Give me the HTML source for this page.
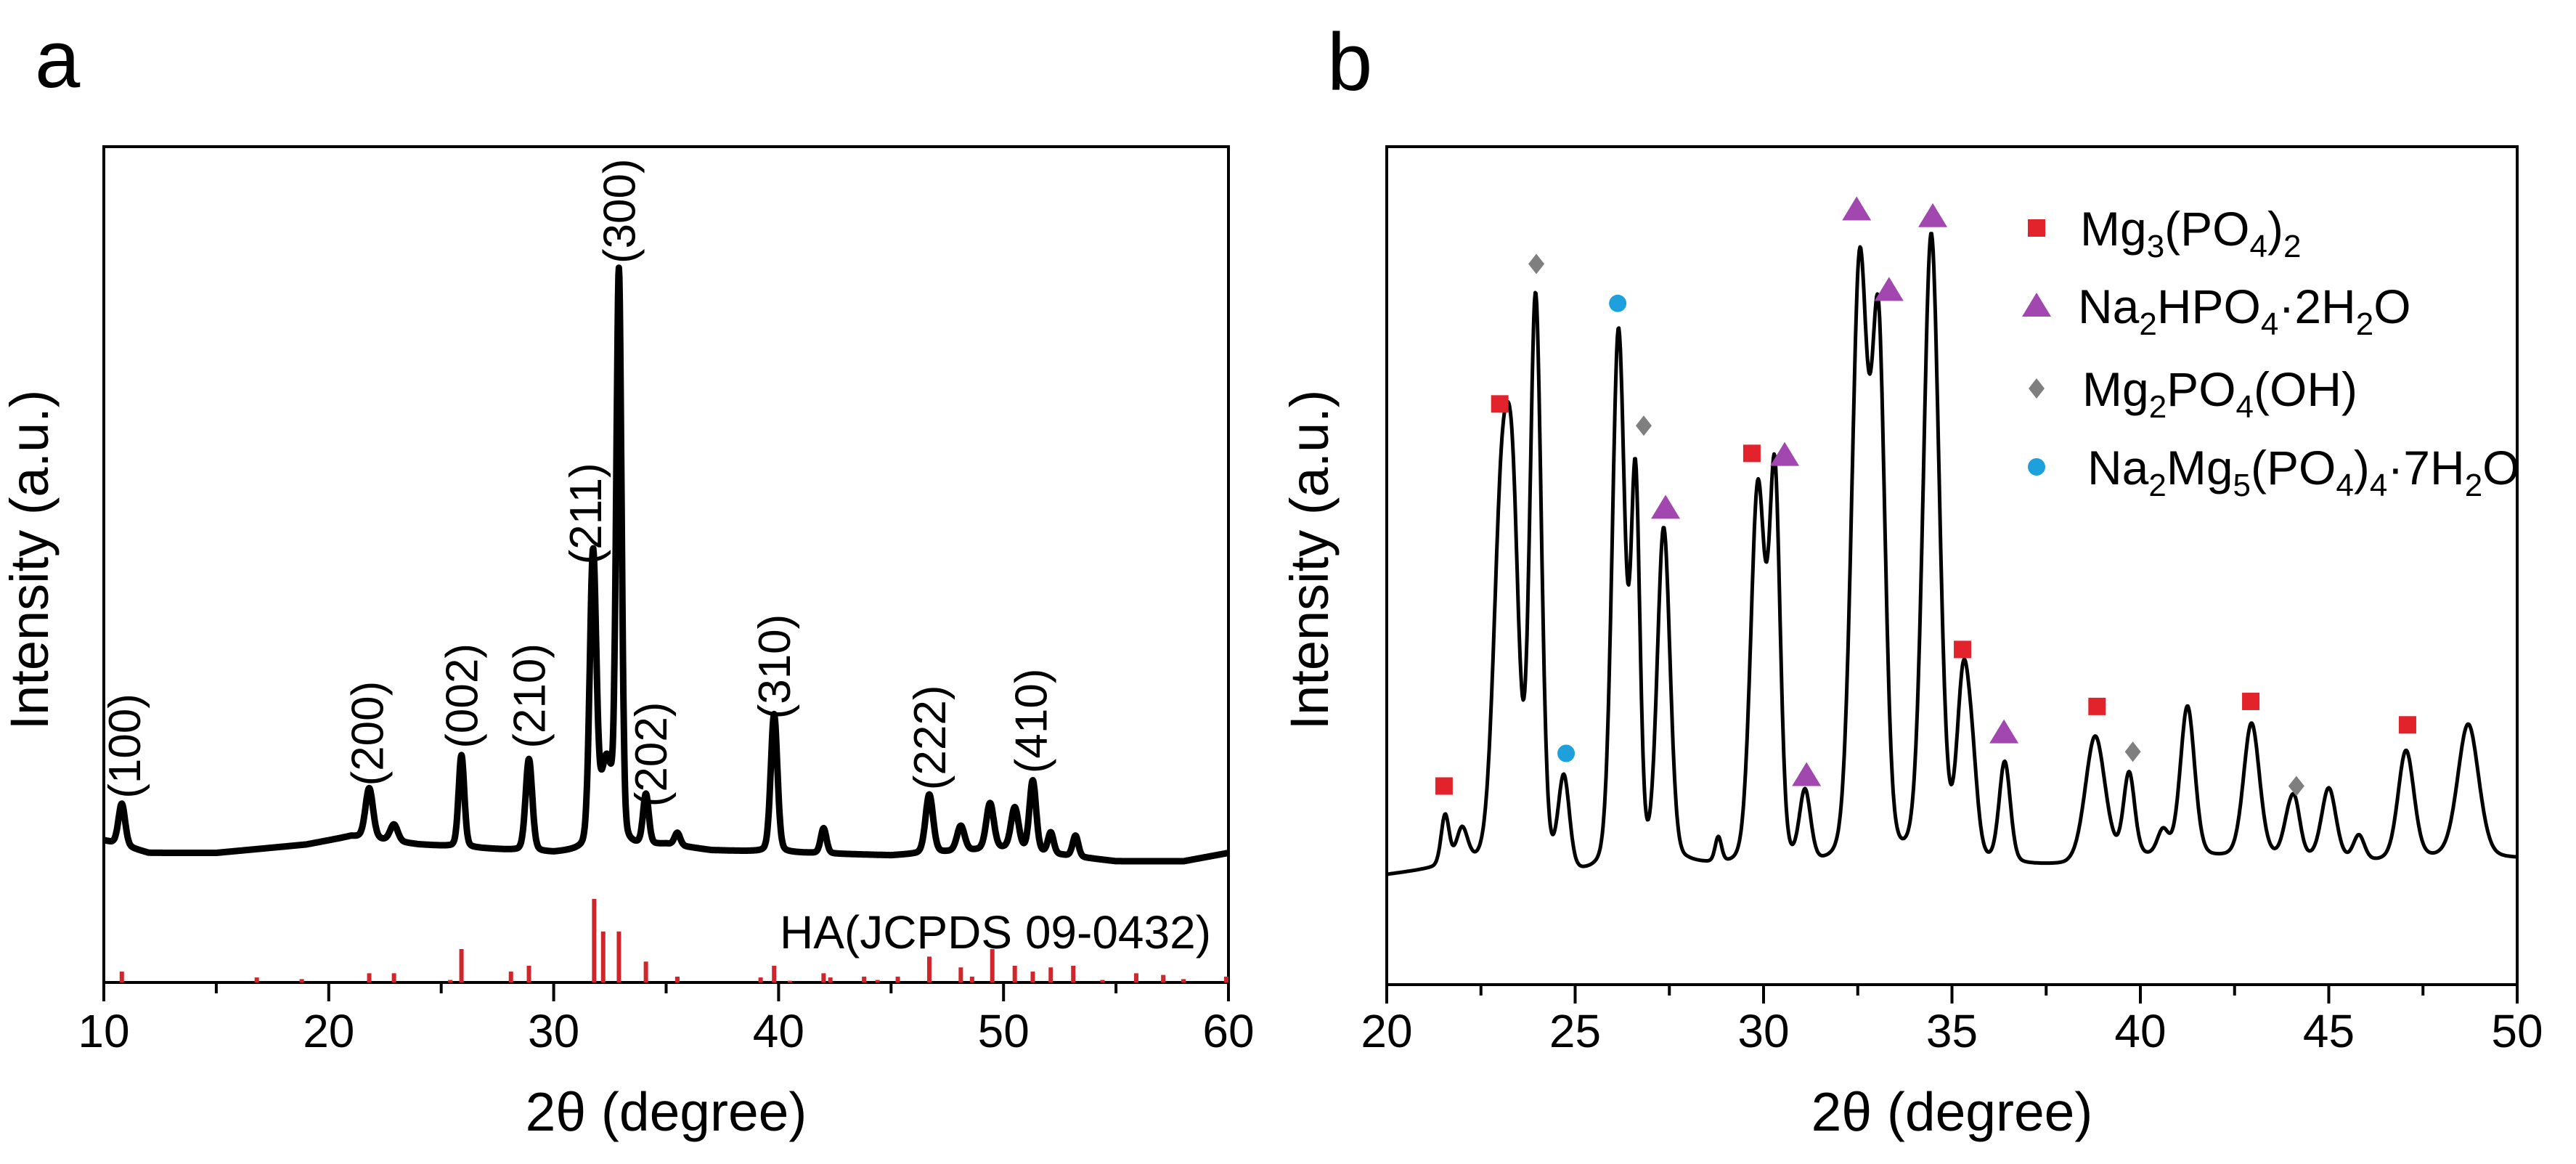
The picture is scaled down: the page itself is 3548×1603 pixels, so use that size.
<!DOCTYPE html>
<html><head><meta charset="utf-8">
<style>
html,body{margin:0;padding:0;background:#fff;}
svg{display:block;font-family:"Liberation Sans",Arial,sans-serif;}
</style></head>
<body>
<svg id="fig" width="3548" height="1603" viewBox="0 0 3548 1603" xmlns="http://www.w3.org/2000/svg">
<rect width="3548" height="1603" fill="#fff"/>
<text x="48" y="120" font-size="112">a</text>
<text x="1828" y="124" font-size="112">b</text>
<g id="pa"></g>
<g id="pb"></g>
</svg>
<script>
// ---------- Panel a data ----------
const aBaseX = [10,12,15,19,21,24,27,30,35,37,41,45,50,55,58,60];
const aBaseY = [17,15.5,15.5,16.5,17.5,16.5,16,15.5,16.5,15.8,15.5,15.2,16,14.5,14.5,15.5];
const aPeakPos = [10.8,21.8,22.9,25.9,28.9,31.75,32.35,32.9,34.1,35.5,39.8,42.0,46.7,48.1,49.4,50.5,51.3,52.1,53.2];
const aPeakH   = [5,6,2,11,11,35,10,68,6,1.5,16.5,3,7,3,5.5,5,8.5,2.5,2.5];
const aPeakW   = [0.35,0.4,0.4,0.3,0.35,0.35,0.6,0.28,0.3,0.3,0.35,0.3,0.4,0.4,0.4,0.4,0.35,0.3,0.3];
const stickPos = [10.8,16.8,18.8,21.8,22.9,25.4,25.9,28.1,28.9,31.8,32.2,32.9,34.1,35.5,39.2,39.8,40.5,42.0,42.3,43.8,44.4,45.3,46.7,48.1,48.6,49.5,50.5,51.3,52.1,53.1,54.4,55.9,57.1,58.0,59.9];
const stickH   = [1.3,0.6,0.4,1.1,1.1,0.3,4.0,1.3,2.0,10.0,6.1,6.1,2.5,0.7,0.6,2.0,0.2,1.1,0.6,0.7,0.3,0.7,3.1,1.8,0.7,4.0,2.0,1.3,1.8,2.0,0.3,1.1,0.9,0.4,0.7];
const hklLabels = ["(100)","(200)","(002)","(210)","(211)","(300)","(202)","(310)","(222)","(410)"];
const hklPos    = [10.9,21.7,25.9,28.9,31.4,32.9,34.3,39.8,46.7,51.2];
const hklY      = [22,23.5,28,28,50,86,21,31.5,23,25];
const aTicks = [10,20,30,40,50,60];

// ---------- Panel b data ----------
const bBaseX = [20,22,25,28,29.5,31.5,36,38,40,44,46,48,50];
const bBaseY = [13,14,12.5,14,13.5,13.5,14,14,15,15,14.5,15,15];
const bPeakPos = [21.55,22.0,23.05,23.35,23.95,24.7,26.15,26.6,27.35,28.8,29.85,30.3,31.1,32.55,33.05,34.45,35.3,35.55,36.4,38.8,39.7,40.6,41.25,42.95,43.9,44.1,45.0,45.8,47.05,48.7];
const bPeakH   = [6,4,43,33,68,11,64,45,40,3,45,45,8.5,71,61,75,21,8,12,15,10,3,18,16,3,6,8.5,3,13,16];
const bPeakW   = [0.25,0.35,0.5,0.4,0.36,0.35,0.4,0.28,0.4,0.2,0.45,0.34,0.35,0.5,0.42,0.5,0.4,0.35,0.35,0.62,0.35,0.35,0.45,0.5,0.35,0.35,0.45,0.35,0.5,0.66];
const sqX = [21.52,23.0,29.69,35.28,38.85,42.93,47.09];
const sqY = [23.7,69.3,63.4,40.0,33.2,33.8,31.0];
const triX = [32.47,34.49,33.33,30.56,27.40,31.14,36.38];
const triY = [92.5,91.7,82.9,63.2,56.9,25.0,30.1];
const diaX = [23.97,26.82,39.80,44.14];
const diaY = [86.0,66.7,27.8,23.7];
const cirX = [26.13,24.76];
const cirY = [81.3,27.6];
const bTicks = [20,25,30,35,40,45,50];

const NS = "http://www.w3.org/2000/svg";
function mk(tag, attrs, parent){
  const e = document.createElementNS(NS, tag);
  for (const k in attrs) e.setAttribute(k, attrs[k]);
  parent.appendChild(e);
  return e;
}
function interp(xs, ys, x){
  if (x <= xs[0]) return ys[0];
  for (let i=1;i<xs.length;i++){
    if (x <= xs[i]){ const t=(x-xs[i-1])/(xs[i]-xs[i-1]); return ys[i-1]+t*(ys[i]-ys[i-1]); }
  }
  return ys[ys.length-1];
}
function curve(x, bx, by, pp, ph, pw){
  let y = interp(bx, by, x);
  for (let i=0;i<pp.length;i++){
    const d=(x-pp[i])/pw[i];
    y += ph[i]*(0.8*Math.exp(-2.7726*d*d) + 0.2/(1+4*d*d));
  }
  return y;
}
function frame(g, L, R, T, B, x0, x1, major, minor, ticks){
  const sx = v => L + (v-x0)/(x1-x0)*(R-L);
  const sy = v => B - v/100*(B-T);
  const fr = mk('rect',{x:L,y:T,width:R-L,height:B-T,fill:'none',stroke:'#000','stroke-width':4},g);
  
  
  for (let v=x0; v<=x1+1e-9; v+=minor){
    const isMaj = Math.abs(Math.round(v/major)*major - v) < 1e-6;
    const t = mk('line',{x1:sx(v),x2:sx(v),y1:B,y2:B+(isMaj?26:15),stroke:'#000','stroke-width':4},g);
    
    
  }
  ticks.forEach(v=>{
    const t = mk('text',{x:sx(v),y:1442,'font-size':64,'text-anchor':'middle'},g);
    t.textContent = v;
    
    
  });
  const xt = mk('text',{x:(L+R)/2,y:1557,'font-size':75,'text-anchor':'middle'},g);
  xt.textContent = '2θ (degree)';
  
  
  return {sx, sy};
}
function ylab(g, cx){
  const t = mk('text',{x:0,y:0,'font-size':74,'text-anchor':'middle',transform:`translate(${cx+26},771) rotate(-90)`},g);
  t.textContent = 'Intensity (a.u.)';
  
  
}
function pathFor(sx, sy, x0, x1, bx, by, pp, ph, pw){
  let d='';
  for (let x=x0; x<=x1+1e-9; x+=0.02){
    const y = curve(x,bx,by,pp,ph,pw);
    d += (d?'L':'M') + sx(x).toFixed(1) + ' ' + sy(y).toFixed(1);
  }
  return d;
}

// ---------- Panel a ----------
(function(){
  const g = document.getElementById('pa');
  const {sx, sy} = frame(g, 143, 1692, 202, 1353, 10, 60, 10, 5, aTicks);
  ylab(g, 40);
  const p = mk('path',{d:pathFor(sx,sy,10,60,aBaseX,aBaseY,aPeakPos,aPeakH,aPeakW),fill:'none',stroke:'#000','stroke-width':9,'stroke-linejoin':'round'},g);
  
  
  stickPos.forEach((v,i)=>{
    const s = mk('line',{x1:sx(v),x2:sx(v),y1:sy(0),y2:sy(stickH[i]),stroke:'#d0262b','stroke-width':6},g);
    
    
  });
  hklLabels.forEach((lab,i)=>{
    const x = sx(hklPos[i]) + 22, y = sy(hklY[i]);
    const t = mk('text',{x:0,y:0,'font-size':62,transform:`translate(${x},${y}) rotate(-90)`},g);
    t.textContent = lab;
    
    
  });
  const ha = mk('text',{x:1668,y:1306,'font-size':64,'text-anchor':'end'},g);
  ha.textContent = 'HA(JCPDS 09-0432)';
  
  
})();

// ---------- Panel b ----------
(function(){
  const g = document.getElementById('pb');
  const {sx, sy} = frame(g, 1910, 3467, 202, 1356, 20, 50, 5, 2.5, bTicks);
  ylab(g, 1803);
  const p = mk('path',{d:pathFor(sx,sy,20,50,bBaseX,bBaseY,bPeakPos,bPeakH,bPeakW),fill:'none',stroke:'#000','stroke-width':5,'stroke-linejoin':'round'},g);
  
  
  function square(x,y,name){ const e=mk('rect',{x:x-12,y:y-12,width:24,height:24,fill:'#e3232b'},g);   }
  function tri(x,y,name){ const e=mk('polygon',{points:`${x-20},${y+15} ${x+20},${y+15} ${x},${y-18}`,fill:'#a347b0'},g);   }
  function dia(x,y,name){ const e=mk('polygon',{points:`${x},${y-14} ${x+11},${y} ${x},${y+14} ${x-11},${y}`,fill:'#7f7f7f'},g);   }
  function cir(x,y,name){ const e=mk('circle',{cx:x,cy:y,r:12,fill:'#1ea0dc'},g);   }
  sqX.forEach((v,i)=>square(sx(v),sy(sqY[i]),'mg3po42-marker'));
  triX.forEach((v,i)=>tri(sx(v),sy(triY[i]),'na2hpo4-marker'));
  diaX.forEach((v,i)=>dia(sx(v),sy(diaY[i]),'mg2po4oh-marker'));
  cirX.forEach((v,i)=>cir(sx(v),sy(cirY[i]),'na2mg5po44-marker'));
  const lg = mk('g',{},g);
  
  
  const ys=[314,421,535,643];
  square(2805,ys[0],'legend-marker-square');
  tri(2805,ys[1],'legend-marker-triangle');
  dia(2805,ys[2],'legend-marker-diamond');
  cir(2805,ys[3],'legend-marker-circle');
  const entries = [
    [['Mg',0],['3',1],['(PO',0],['4',1],[')',0],['2',1]],
    [['Na',0],['2',1],['HPO',0],['4',1],['·2H',0],['2',1],['O',0]],
    [['Mg',0],['2',1],['PO',0],['4',1],['(OH)',0]],
    [['Na',0],['2',1],['Mg',0],['5',1],['(PO',0],['4',1],[')',0],['4',1],['·7H',0],['2',1],['O',0]]
  ];
  const xs=[2865,2862,2868,2875];
  entries.forEach((parts,i)=>{
    const t = mk('text',{x:xs[i],y:ys[i]+24,'font-size':66},lg);
    
    
    let prevSub=false;
    parts.forEach(([s,sub])=>{
      let dy = 0;
      if (sub && !prevSub) dy = 16;
      else if (!sub && prevSub) dy = -16;
      const ts = mk('tspan', sub?{'font-size':44,dy:dy}:{dy:dy}, t);
      ts.textContent = s;
      prevSub = !!sub;
    });
  });
})();
</script>
</body></html>
